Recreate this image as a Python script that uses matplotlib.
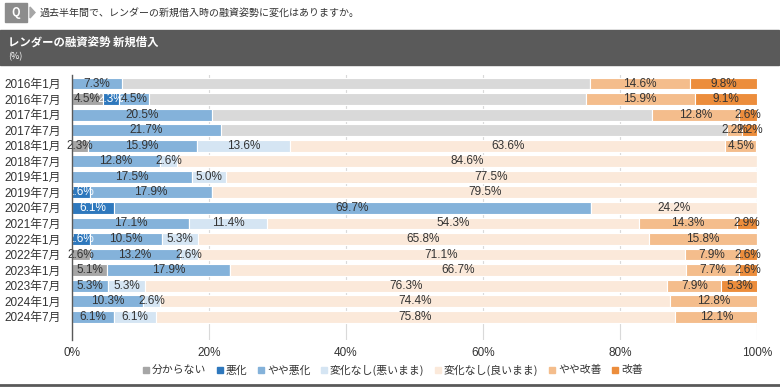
import matplotlib
matplotlib.use("Agg")
import matplotlib.pyplot as plt
from matplotlib.patches import Rectangle, Polygon
from matplotlib.lines import Line2D
import numpy as np

plt.rcParams['font.family'] = ['Noto Sans CJK JP', 'DejaVu Sans']
latin = ['Liberation Sans', 'Noto Sans CJK JP', 'DejaVu Sans']

periods = ["2016年1月", "2016年7月", "2017年1月", "2017年7月", "2018年1月", "2018年7月",
           "2019年1月", "2019年7月", "2020年7月", "2021年7月", "2022年1月", "2022年7月",
           "2023年1月", "2023年7月", "2024年1月", "2024年7月"]

# series values (%)
unknown      = [0, 4.5, 0, 0, 2.3, 0, 0, 0, 0, 0, 0, 2.6, 5.1, 0, 0, 0]
worse        = [0, 2.3, 0, 0, 0, 0, 0, 2.6, 6.1, 0, 2.6, 0, 0, 0, 0, 0]
bit_worse    = [7.3, 4.5, 20.5, 21.7, 15.9, 12.8, 17.5, 17.9, 69.7, 17.1, 10.5, 13.2, 17.9, 5.3, 10.3, 6.1]
same_overall = [68.3, 63.7, 64.1, 73.9, 0, 0, 0, 0, 0, 0, 0, 0, 0, 0, 0, 0]
same_bad     = [0, 0, 0, 0, 13.6, 2.6, 5.0, 0, 0, 11.4, 5.3, 2.6, 0, 5.3, 2.6, 6.1]
same_good    = [0, 0, 0, 0, 63.6, 84.6, 77.5, 79.5, 24.2, 54.3, 65.8, 71.1, 66.7, 76.3, 74.4, 75.8]
bit_better   = [14.6, 15.9, 12.8, 2.2, 4.5, 0, 0, 0, 0, 14.3, 15.8, 7.9, 7.7, 7.9, 12.8, 12.1]
better       = [9.8, 9.1, 2.6, 2.2, 0, 0, 0, 0, 0, 2.9, 0, 2.6, 2.6, 5.3, 0, 0]

series = [
    ("分からない", unknown, "#a6a6a6", "#333333", True),
    ("悪化", worse, "#2e78bd", "white", True),
    ("やや悪化", bit_worse, "#84b2da", "#333333", True),
    ("変化なし", same_overall, "#d9d9d9", "#333333", False),
    ("変化なし(悪いまま)", same_bad, "#d5e5f3", "#333333", True),
    ("変化なし(良いまま)", same_good, "#fbe9da", "#333333", True),
    ("やや改善", bit_better, "#f4bd8c", "#333333", True),
    ("改善", better, "#ec8d3c", "#333333", True),
]

fig = plt.figure(figsize=(7.8, 3.87), dpi=100)
ax = fig.add_axes([72 / 780, 1 - 340 / 387, 685 / 780, 265 / 387])

y = np.arange(len(periods))
left = np.zeros(len(periods))
handles = []
for name, vals, col, tcol, in_legend in series:
    vals = np.array(vals, dtype=float)
    ax.barh(y, vals, left=left, height=0.76, color=col, edgecolor="white",
            linewidth=0.8, zorder=2)
    if in_legend:
        for yi, (l, v) in enumerate(zip(left, vals)):
            if v > 0:
                ax.text(l + v / 2, yi, f"{v:.1f}%", ha="center", va="center",
                        fontsize=8.5, color=tcol, zorder=3, family=latin)
        handles.append(Line2D([], [], marker="s", linestyle="none", color=col,
                              markersize=4, label=name))
    left += vals

ax.set_xlim(0, 100)
ax.set_ylim(len(periods) - 1 + 1.5, -0.55)
ax.set_yticks(y)
ax.set_yticklabels(periods, fontsize=8.5, color="#333333", family=latin)
ax.set_xticks([0, 20, 40, 60, 80, 100])
ax.set_xticklabels(["0%", "20%", "40%", "60%", "80%", "100%"], fontsize=8.5,
                   color="#333333", family=latin)
ax.tick_params(axis="both", length=0)
ax.tick_params(axis="y", pad=8)
ax.tick_params(axis="x", pad=5)
ax.grid(axis="x", color="#d9d9d9", linewidth=0.8, zorder=0)
for s in ["top", "right", "bottom"]:
    ax.spines[s].set_visible(False)
ax.spines["left"].set_color("#595959")
ax.spines["left"].set_linewidth(1.0)
ax.spines["left"].set_zorder(4)

fig.legend(handles=handles, loc="center", bbox_to_anchor=(393 / 780, 1 - 370 / 387),
           ncol=7, frameon=False, fontsize=7.8, handlelength=0.5, handletextpad=0.3,
           columnspacing=1.0, labelcolor="#333333")

# header
fig.patches.append(Rectangle((5 / 780, 1 - 22 / 387), 22 / 780, 19 / 387,
                             transform=fig.transFigure, color="#8c8c8c"))
fig.patches.append(Polygon([(30 / 780, 1 - 7 / 387), (35 / 780, 1 - 12.5 / 387),
                            (30 / 780, 1 - 18 / 387)], closed=True,
                           transform=fig.transFigure, color="#a6a6a6"))
fig.text(16 / 780, 1 - 12.5 / 387, "Q", ha="center", va="center", color="white",
         fontsize=8, fontweight="bold")
fig.text(40 / 780, 1 - 12.5 / 387, "過去半年間で、レンダーの新規借入時の融資姿勢に変化はありますか。",
         ha="left", va="center", fontsize=7.2, color="#333333")
fig.patches.append(Rectangle((0, 1 - 65 / 387), 779 / 780, 35 / 387,
                             transform=fig.transFigure, color="#5a5a5a"))
fig.text(8 / 780, 1 - 42 / 387, "レンダーの融資姿勢 新規借入", ha="left", va="center",
         fontsize=8.2, color="white", fontweight="bold")
fig.text(8 / 780, 1 - 57 / 387, "(%)", ha="left", va="center", fontsize=6.5,
         color="white")
fig.lines.append(Line2D([0, 1], [1 - 385 / 387, 1 - 385 / 387], transform=fig.transFigure,
                        color="#595959", linewidth=2))

fig.savefig("out.png", dpi=100)
